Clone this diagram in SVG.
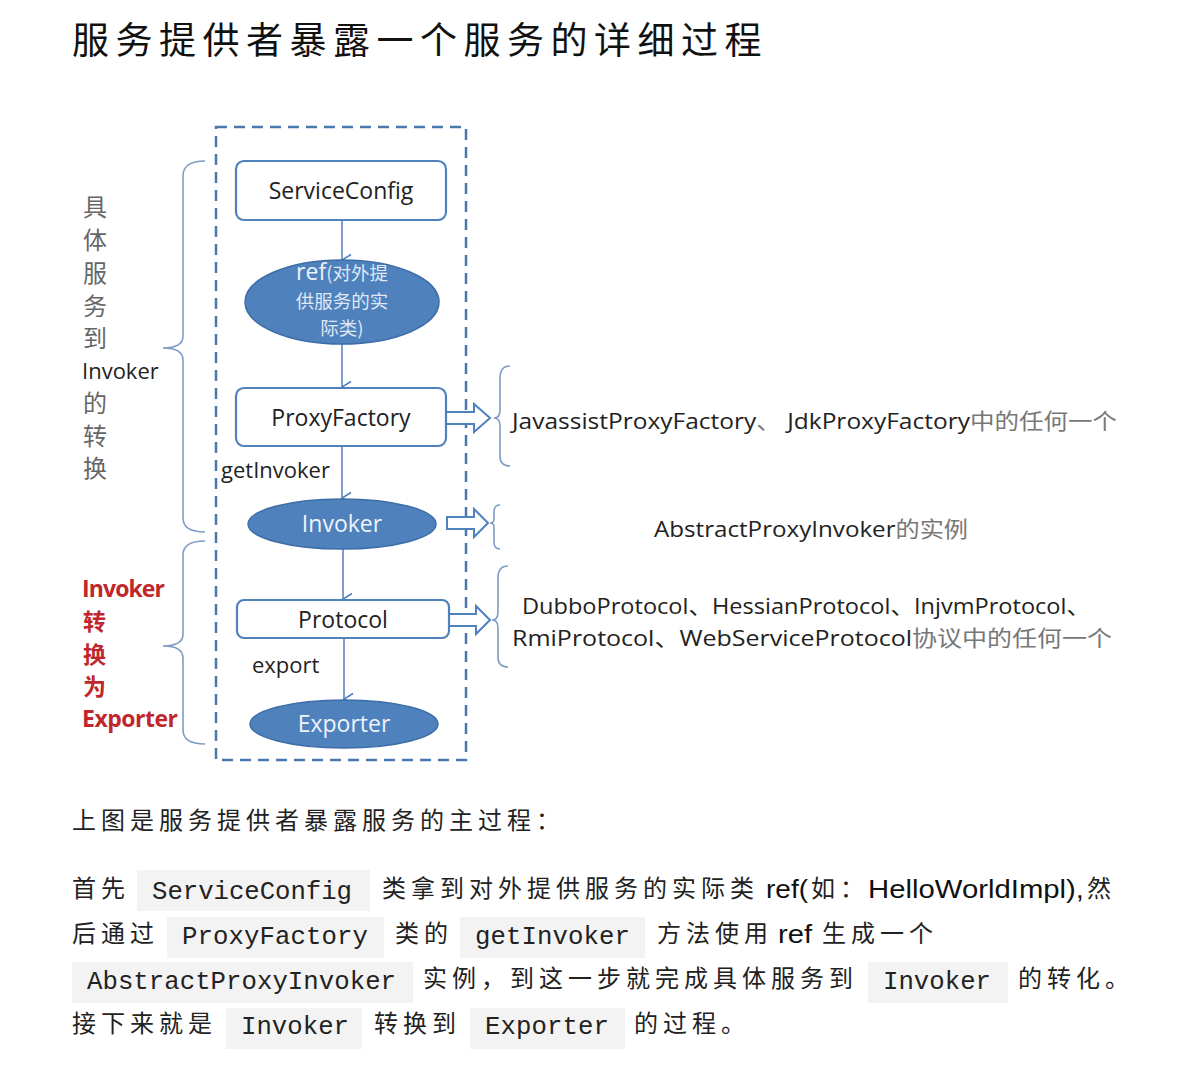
<svg xmlns="http://www.w3.org/2000/svg" width="1186" height="1086" viewBox="0 0 1186 1086">
<defs>
<marker id="arr" viewBox="0 0 14 14" refX="7" refY="13" markerWidth="14" markerHeight="14" markerUnits="userSpaceOnUse" orient="auto-start-reverse">
<path d="M1.5,4 L7,13 L12.5,4" fill="none" stroke="#4f81bd" stroke-width="1.6"/>
</marker>
</defs>
<style>
.title{font-family:"Noto Sans CJK SC",sans-serif;font-size:37px;letter-spacing:6.5px;fill:#111;}
.body{font-family:"Noto Sans CJK SC",sans-serif;font-size:24px;letter-spacing:5px;fill:#222;}
.lat{font-family:"Liberation Sans","Noto Sans CJK SC",sans-serif;font-size:26px;fill:#111;}
.code{font-family:"Liberation Mono",monospace;font-size:25.7px;fill:#222;}
.codebg{fill:#f3f3f3;}
.box{fill:#fff;stroke:#4f81bd;stroke-width:2.2;}
.ell{fill:#4f81bd;stroke:#3d6ea8;stroke-width:1.5;}
.bt{font-family:"Open Sans","Liberation Sans",sans-serif;font-size:23px;fill:#222;text-anchor:middle;}
.et{font-family:"Open Sans","Liberation Sans",sans-serif;font-size:23px;fill:#eef3fa;text-anchor:middle;}
.ec{font-family:"Noto Sans CJK SC",sans-serif;font-size:18.5px;fill:#dfe8f4;text-anchor:middle;}
.lbl{font-family:"Open Sans","Liberation Sans",sans-serif;font-size:22px;fill:#222;}
.side{font-family:"Noto Sans CJK SC",sans-serif;font-size:24px;fill:#666;}
.red{font-family:"Open Sans","Liberation Sans",sans-serif;font-size:23px;font-weight:bold;fill:#c0272d;}
.redc{font-family:"Noto Sans CJK SC",sans-serif;font-size:23px;font-weight:bold;fill:#c0272d;}
.rt{font-family:"Open Sans","Liberation Sans","Noto Sans CJK SC",sans-serif;font-size:22px;fill:#222;}
.gr{fill:#777;}
.brace{fill:none;stroke:#7f9cc4;stroke-width:1.6;}
.conn{fill:none;stroke:#4f81bd;stroke-width:1.5;}
.hollow{fill:#fff;stroke:#4f81bd;stroke-width:2;stroke-linejoin:miter;}
</style>
<rect width="1186" height="1086" fill="#fff"/>

<text class="title" x="72" y="54">服务提供者暴露一个服务的详细过程</text>

<g id="container">
<rect x="216" y="127" width="250" height="633" fill="none" stroke="#4a78ad" stroke-width="2.5" stroke-dasharray="11 7"/>
</g>

<g id="connectors">
<line class="conn" x1="342" y1="220" x2="342" y2="260" marker-end="url(#arr)"/>
<line class="conn" x1="342" y1="344" x2="342" y2="387" marker-end="url(#arr)"/>
<line class="conn" x1="342" y1="446" x2="342" y2="498" marker-end="url(#arr)"/>
<line class="conn" x1="343" y1="549" x2="343" y2="599" marker-end="url(#arr)"/>
<line class="conn" x1="344" y1="638" x2="344" y2="699" marker-end="url(#arr)"/>
<polygon class="hollow" points="446,412 474,412 474,404 490,418 474,432 474,424 446,424"/>
<polygon class="hollow" points="447,517 474,517 474,509 488,523 474,537 474,529 447,529"/>
<polygon class="hollow" points="449,614 476,614 476,606 490,620 476,634 476,626 449,626"/>
<text class="lbl" x="221" y="478">getInvoker</text>
<text class="lbl" x="252" y="673">export</text>
</g>

<g id="serviceconfig">
<rect class="box" x="236" y="161" width="210" height="59" rx="8"/>
<text class="bt" x="341" y="199">ServiceConfig</text>
</g>

<g id="ref">
<ellipse class="ell" cx="342" cy="302" rx="97" ry="42"/>
<text class="et" x="342" y="280" style="font-size:23px">ref<tspan style="font-family:'Noto Sans CJK SC',sans-serif;font-size:18.5px;fill:#dfe8f4">(对外提</tspan></text>
<text class="ec" x="342" y="308">供服务的实</text>
<text class="ec" x="342" y="335">际类)</text>
</g>

<g id="proxyfactory">
<rect class="box" x="236" y="388" width="210" height="58" rx="8"/>
<text class="bt" x="341" y="426">ProxyFactory</text>
</g>

<g id="invoker">
<ellipse class="ell" cx="342" cy="524" rx="94" ry="25"/>
<text class="et" x="342" y="532">Invoker</text>
</g>

<g id="protocol">
<rect class="box" x="237" y="600" width="212" height="38" rx="7"/>
<text class="bt" x="343" y="628">Protocol</text>
</g>

<g id="exporter">
<ellipse class="ell" cx="344" cy="724" rx="94" ry="24"/>
<text class="et" x="344" y="732">Exporter</text>
</g>

<g id="left-brace-1">
<path class="brace" d="M205,161 Q183,161 183,176 L183,336 Q183,348 163,348 Q183,348 183,360 L183,518 Q183,532 205,532"/>
<text class="side" x="83" y="216">具</text>
<text class="side" x="83" y="249">体</text>
<text class="side" x="83" y="282">服</text>
<text class="side" x="83" y="315">务</text>
<text class="side" x="83" y="347">到</text>
<text class="lbl" x="82" y="379">Invoker</text>
<text class="side" x="83" y="412">的</text>
<text class="side" x="83" y="445">转</text>
<text class="side" x="83" y="477">换</text>
</g>

<g id="left-brace-2">
<path class="brace" d="M205,541 Q183,541 183,555 L183,634 Q183,646 163,646 Q183,646 183,658 L183,730 Q183,744 205,744"/>
<text class="red" x="82" y="597" textLength="83">Invoker</text>
<text class="redc" x="83" y="630">转</text>
<text class="redc" x="83" y="663">换</text>
<text class="redc" x="83" y="695">为</text>
<text class="red" x="82" y="727" textLength="96">Exporter</text>
</g>

<g id="right-1">
<path class="brace" d="M510,366 Q500,366 500,378 L500,410 Q500,418 494,418 Q500,418 500,426 L500,456 Q500,466 510,466"/>
<text class="rt" x="512" y="429" textLength="605" lengthAdjust="spacingAndGlyphs">JavassistProxyFactory<tspan class="gr">、 </tspan>JdkProxyFactory<tspan class="gr">中的任何一个</tspan></text>
</g>

<g id="right-2">
<path class="brace" d="M500,505 Q494,505 494,512 L494,519 Q494,523 490,523 Q494,523 494,527 L494,542 Q494,549 500,549"/>
<text class="rt" x="654" y="537" textLength="314" lengthAdjust="spacingAndGlyphs">AbstractProxyInvoker<tspan class="gr">的实例</tspan></text>
</g>

<g id="right-3">
<path class="brace" d="M508,566 Q498,566 498,578 L498,612 Q498,620 492,620 Q498,620 498,628 L498,657 Q498,667 508,667"/>
<text class="rt" x="522" y="614" textLength="568" lengthAdjust="spacingAndGlyphs">DubboProtocol、HessianProtocol、InjvmProtocol、</text>
<text class="rt" x="512" y="646" textLength="600" lengthAdjust="spacingAndGlyphs">RmiProtocol、WebServiceProtocol<tspan class="gr">协议中的任何一个</tspan></text>
</g>

<g id="description">
<text class="body" x="72" y="829">上图是服务提供者暴露服务的主过程：</text>

<text class="body" x="72" y="897">首先</text>
<rect class="codebg" x="137" y="870" width="233" height="41"/>
<text class="code" x="152" y="899" textLength="200">ServiceConfig</text>
<text class="body" x="382" y="897">类拿到对外提供服务的实际类</text>
<text class="lat" x="766" y="898" textLength="42" lengthAdjust="spacingAndGlyphs">ref(</text>
<text class="body" x="811" y="897">如：</text>
<text class="lat" x="868" y="898" textLength="216" lengthAdjust="spacingAndGlyphs">HelloWorldImpl),</text>
<text class="body" x="1087" y="897">然</text>

<text class="body" x="72" y="942">后通过</text>
<rect class="codebg" x="167" y="917" width="217" height="41"/>
<text class="code" x="182" y="944" textLength="186">ProxyFactory</text>
<text class="body" x="395" y="942">类的</text>
<rect class="codebg" x="460" y="917" width="185" height="41"/>
<text class="code" x="475" y="944" textLength="155">getInvoker</text>
<text class="body" x="657" y="942">方法使用</text>
<text class="lat" x="778" y="943" textLength="34" lengthAdjust="spacingAndGlyphs">ref</text>
<text class="body" x="822" y="942">生成一个</text>

<rect class="codebg" x="72" y="962" width="341" height="41"/>
<text class="code" x="87" y="989" textLength="309">AbstractProxyInvoker</text>
<text class="body" x="423" y="987">实例，到这一步就完成具体服务到</text>
<rect class="codebg" x="868" y="962" width="140" height="41"/>
<text class="code" x="883" y="989" textLength="108">Invoker</text>
<text class="body" x="1018" y="987">的转化。</text>

<text class="body" x="72" y="1032">接下来就是</text>
<rect class="codebg" x="226" y="1008" width="136" height="41"/>
<text class="code" x="241" y="1034" textLength="108">Invoker</text>
<text class="body" x="374" y="1032">转换到</text>
<rect class="codebg" x="470" y="1008" width="155" height="41"/>
<text class="code" x="485" y="1034" textLength="124">Exporter</text>
<text class="body" x="634" y="1032">的过程。</text>
</g>
</svg>
